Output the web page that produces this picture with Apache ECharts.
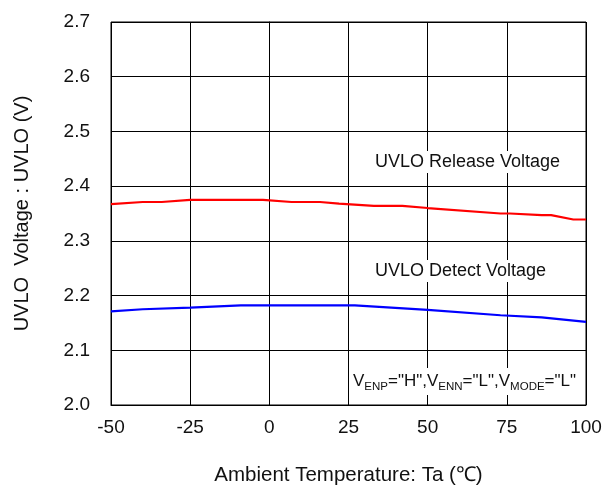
<!DOCTYPE html>
<html><head><meta charset="utf-8">
<script src="https://cdn.jsdelivr.net/npm/echarts@6/dist/echarts.min.js"></script>
<style>html,body{margin:0;padding:0;background:#fff}#c{width:606px;height:491px}</style>
</head><body><div id="c"></div>
<script>
var releaseTemp = [-50, -40, -34, -25, -2, 7, 16, 22, 33, 42, 50, 73, 76, 86, 89, 96, 100];
var releaseVolt = [2.367, 2.371, 2.371, 2.375, 2.375, 2.371, 2.371, 2.368, 2.364, 2.364, 2.360, 2.350, 2.350, 2.347, 2.347, 2.339, 2.339];
var detectTemp = [-50, -40, -25, -9, 27, 50, 73, 86, 100];
var detectVolt = [2.171, 2.175, 2.178, 2.182, 2.182, 2.174, 2.164, 2.160, 2.152];
var xTicks = [-50, -25, 0, 25, 50, 75, 100];
var yTicks = [2.0, 2.1, 2.2, 2.3, 2.4, 2.5, 2.6, 2.7];

function pairs(xs, ys){ return xs.map(function(x,i){return [x, ys[i]];}); }
var F = 'Liberation Sans, Arial, sans-serif';
var chart = echarts.init(document.getElementById('c'));
chart.setOption({
  animation: false,
  backgroundColor: '#fff',
  grid: {left: 111, right: 20, top: 22, bottom: 85, show: true, borderColor: '#000', borderWidth: 1},
  xAxis: {
    type: 'value', min: xTicks[0], max: xTicks[xTicks.length-1], interval: 25,
    axisLine: {lineStyle: {color: '#000', width: 1}}, axisTick: {show: false},
    splitLine: {show: true, lineStyle: {color: '#000', width: 1}},
    axisLabel: {color: '#111', fontSize: 19, fontFamily: F, margin: 13},
    name: 'Ambient Temperature: Ta (\u2103)', nameLocation: 'middle', nameGap: 60,
    nameTextStyle: {color: '#111', fontSize: 20.5, fontFamily: F}
  },
  yAxis: {
    type: 'value', min: yTicks[0], max: yTicks[yTicks.length-1], interval: 0.1,
    axisLine: {show: true, lineStyle: {color: '#000', width: 1}}, axisTick: {show: false},
    splitLine: {show: true, lineStyle: {color: '#000', width: 1}},
    axisLabel: {color: '#111', fontSize: 19, fontFamily: F, margin: 21, formatter: function(v){return v.toFixed(1);}},
    name: 'UVLO  Voltage : UVLO (V)', nameLocation: 'middle', nameGap: 79,
    nameTextStyle: {color: '#111', fontSize: 20, fontFamily: F}
  },
  series: [
    {type: 'line', data: pairs(releaseTemp, releaseVolt), showSymbol: false, lineStyle: {color: '#ff0000', width: 2.2}, z: 3},
    {type: 'line', data: pairs(detectTemp, detectVolt), showSymbol: false, lineStyle: {color: '#0000ff', width: 2.2}, z: 3}
  ],
  graphic: [
    {type: 'text', left: 368, top: 151, z: 10, style: {text: 'UVLO Release Voltage', fontSize: 18, fontFamily: F, fill: '#111', backgroundColor: '#fff', padding: [2, 7]}},
    {type: 'text', left: 368, top: 260, z: 10, style: {text: 'UVLO Detect Voltage', fontSize: 18, fontFamily: F, fill: '#111', backgroundColor: '#fff', padding: [2, 7]}},
    {type: 'text', left: 349, top: 368, z: 10, style: {
      text: '{n|V}{s|ENP}{n|="H",V}{s|ENN}{n|="L",V}{s|MODE}{n|="L"}',
      backgroundColor: '#fff', padding: [2, 4],
      rich: {
        n: {fontSize: 17, fontFamily: F, fill: '#111', color: '#111', lineHeight: 23, verticalAlign: 'middle'},
        s: {fontSize: 11.5, fontFamily: F, fill: '#111', color: '#111', lineHeight: 23, verticalAlign: 'bottom', padding: [8, 0, 0, 0]}
      }
    }}
  ]
});
</script></body></html>
